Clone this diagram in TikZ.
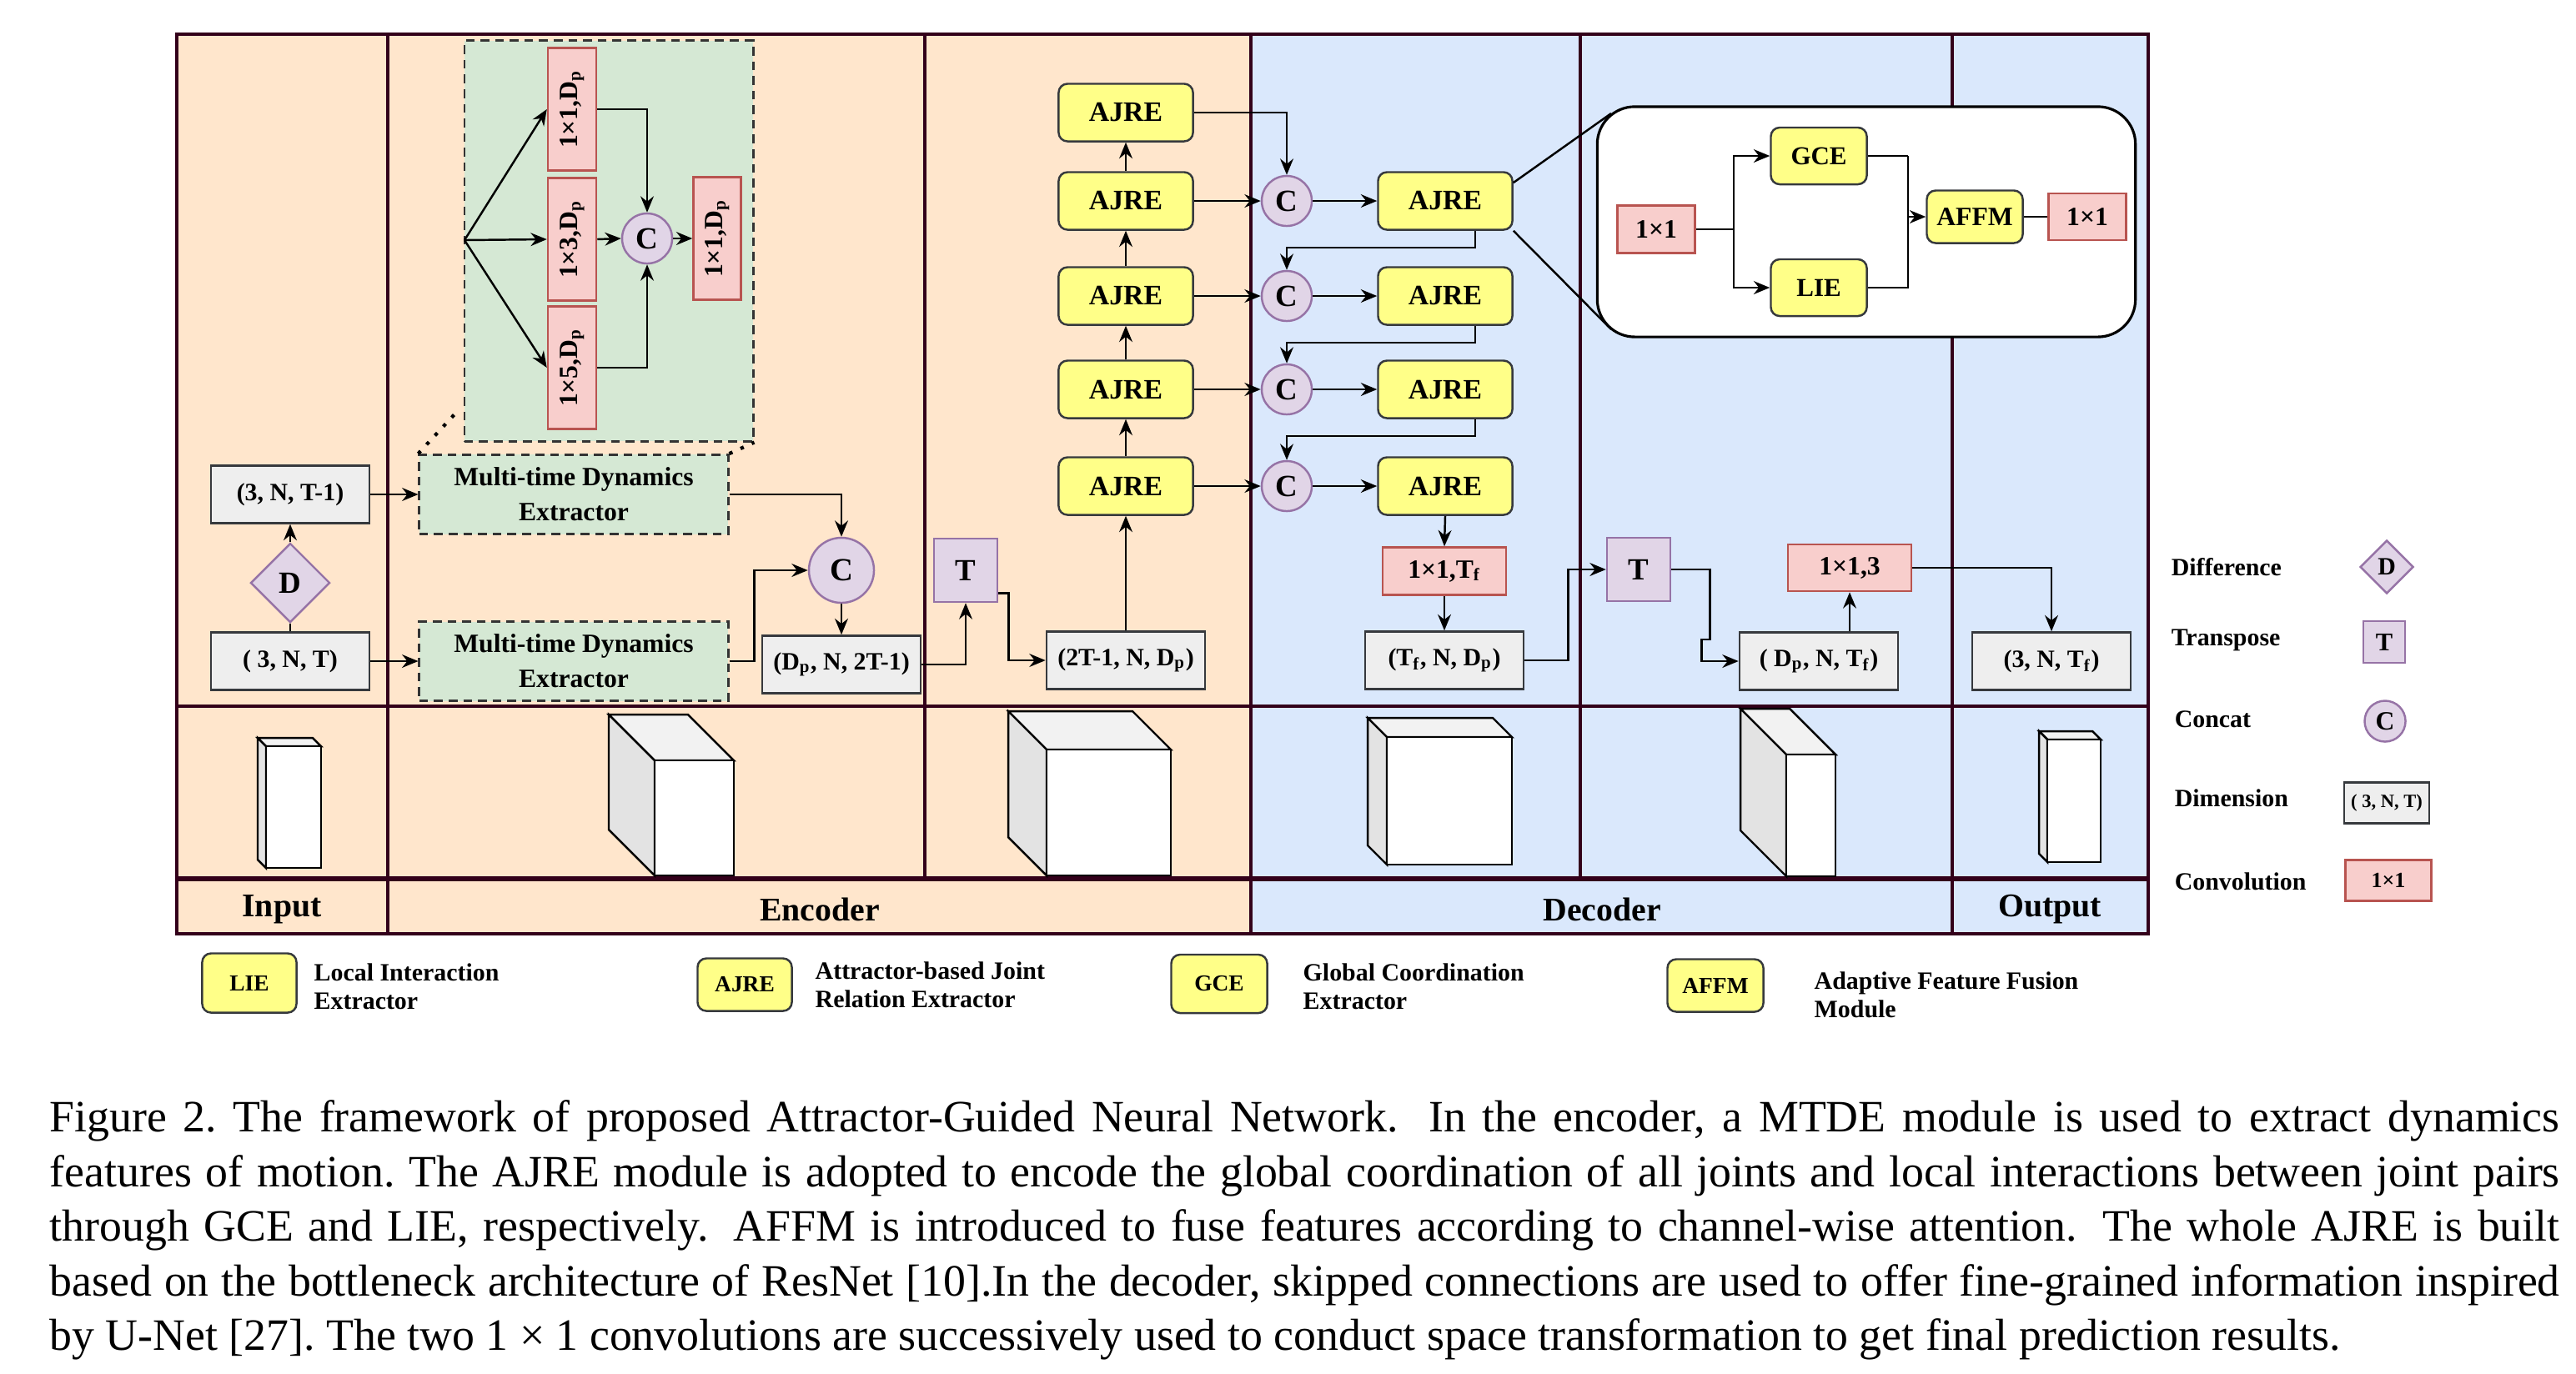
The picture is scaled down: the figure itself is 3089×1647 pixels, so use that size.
\documentclass[tikz,border=0pt]{standalone}
\usepackage{fontspec}
\setmainfont{Liberation Serif}
\usetikzlibrary{arrows.meta, shapes.geometric}
\definecolor{orangebg}{HTML}{FFE6CC}
\definecolor{bluebg}{HTML}{DAE8FC}
\definecolor{framecol}{HTML}{33001A}
\definecolor{dimfill}{HTML}{EEEEEE}
\definecolor{dimline}{HTML}{36393D}
\definecolor{convfill}{HTML}{F8CECC}
\definecolor{convline}{HTML}{B85450}
\definecolor{ajrefill}{HTML}{FFFF88}
\definecolor{ajreline}{HTML}{36393D}
\definecolor{opfill}{HTML}{E1D5E7}
\definecolor{opline}{HTML}{9673A6}
\definecolor{mdefill}{HTML}{D5E8D4}
\definecolor{mdeline}{HTML}{333333}
\definecolor{cubetop}{HTML}{F2F2F2}
\definecolor{cubeside}{HTML}{E3E3E3}

\begin{document}
\begin{tikzpicture}[x=0.01cm, y=-0.01cm,
  every node/.style={font=\bfseries\fontsize{9}{11}\selectfont},
  frame/.style={draw=framecol, line width=1.3pt},
  arr/.style={-{Stealth[length=5.5pt,width=4.5pt]}, line width=0.7pt},
  link/.style={line width=0.7pt},
  dimbox/.style={draw=dimline, fill=dimfill, line width=0.7pt, minimum width=1.9cm, minimum height=0.69cm, inner sep=1pt, font=\bfseries\fontsize{8.5}{10}\selectfont},
  convbox/.style={draw=convline, fill=convfill, line width=0.7pt, inner sep=1pt},
  ajre/.style={draw=ajreline, fill=ajrefill, line width=0.7pt, rounded corners=3pt, minimum width=1.61cm, minimum height=0.69cm, font=\bfseries\fontsize{9.6}{11}\selectfont},
  opnode/.style={draw=opline, fill=opfill, line width=0.7pt, inner sep=0pt, font=\bfseries\fontsize{10.5}{12}\selectfont},
  concat/.style={opnode, circle, minimum size=0.6cm},
  trans/.style={opnode, minimum size=0.76cm},
  diff/.style={opnode, diamond, minimum size=0.95cm},
  mde/.style={draw=mdeline, fill=mdefill, line width=0.8pt, dash pattern=on 3pt off 2pt, minimum width=3.7cm, minimum height=0.95cm, align=center, font=\bfseries\fontsize{9}{12}\selectfont},
  dots/.style={dash pattern=on 1.2pt off 3pt, line width=1.2pt},
  legtext/.style={anchor=west, align=left, inner sep=0pt, font=\bfseries\fontsize{8.5}{9.6}\selectfont},
  rowlabel/.style={font=\bfseries\fontsize{11.3}{13}\selectfont},
  cube/.style={draw=black, line width=0.7pt}]
\useasboundingbox (0,0) rectangle (3089,1647);

\fill[orangebg] (212,41) rectangle (1500,1120);
\fill[bluebg] (1500,41) rectangle (2576,1120);
\draw[frame] (212,41) rectangle (2576,1120);
\draw[frame] (212,847) -- (2576,847);
\draw[frame, line width=1.8pt] (212,1054) -- (2576,1054);
\foreach \xv/\yv in {465/1120, 1109/1054, 1500/1120, 1895/1054, 2341/1120}
  \draw[frame] (\xv,41) -- (\xv,\yv);

\foreach \xa/\ya/\xb/\yb/\dd in {319/895/385/1041/10, 785/912/880/1050/55, 1255/899/1404/1050/46, 1663/884/1813/1037/23, 2142/905/2201/1051/55, 2455/887/2519/1034/10} {
  \filldraw[cube, fill=cubetop] (\xa,\ya) -- ({\xa-\dd},{\ya-\dd}) -- ({\xb-\dd},{\ya-\dd}) -- (\xb,\ya) -- cycle;
  \filldraw[cube, fill=cubeside] (\xa,\ya) -- ({\xa-\dd},{\ya-\dd}) -- ({\xa-\dd},{\yb-\dd}) -- (\xa,\yb) -- cycle;
  \filldraw[cube, fill=white] (\xa,\ya) rectangle (\xb,\yb);
}

\node[rowlabel] (lblin) at (338,1091) {Input};
\node[rowlabel] (lblenc) at (983,1091) {Encoder};
\node[rowlabel] (lbldec) at (1921,1091) {Decoder};
\node[rowlabel] (lblout) at (2458,1091) {Output};

\node[dimbox] (dimA) at (348,593) {(3, N, T-1)};
\node[diff] (dif) at (348,699) {D};
\node[dimbox] (dimB) at (348,793) {( 3, N, T)};
\draw[link] (dimB.north) -- (dif.south);
\draw[arr] (dif.north) -- (dimA.south);

\node[mde, minimum width=3.46cm, minimum height=4.8cm] (mdezoom) at (730,289) {};
\node[convbox, rotate=90, minimum width=1.47cm, minimum height=0.58cm] (k1) at (686,131) {1×1,D\textsubscript{p}};
\node[convbox, rotate=90, minimum width=1.47cm, minimum height=0.58cm] (k3) at (686,287) {1×3,D\textsubscript{p}};
\node[convbox, rotate=90, minimum width=1.47cm, minimum height=0.58cm] (k5) at (686,441) {1×5,D\textsubscript{p}};
\node[concat] (kc) at (776,286) {C};
\node[convbox, rotate=90, minimum width=1.47cm, minimum height=0.57cm] (kout) at (860,286) {1×1,D\textsubscript{p}};
\coordinate (kin) at (557,288);
\draw[arr] (kin) -- (k1.north);
\draw[arr] (kin) -- (k3.north);
\draw[arr] (kin) -- (k5.north);
\draw[arr] (k1.south) -| (kc.north);
\draw[arr] (k3.south) -- (kc.west);
\draw[arr] (k5.south) -| (kc.south);
\draw[arr] (kc.east) -- (kout.north);

\node[mde] (mde1) at (688,593) {Multi-time Dynamics\\Extractor};
\node[mde] (mde2) at (688,793) {Multi-time Dynamics\\Extractor};
\coordinate (zl) at (545,497);
\draw[dots] (mde1.north west) -- (zl);
\draw[dots] (mde1.north east) -- (mdezoom.south east);
\draw[arr] (dimA.east) -- (mde1.west);
\draw[arr] (dimB.east) -- (mde2.west);

\node[concat, minimum size=0.78cm, font=\bfseries\fontsize{11}{12}\selectfont] (cc) at (1009,684) {C};
\node[dimbox] (dimC) at (1009,797) {(D\textsubscript{p}, N, 2T-1)};
\draw[arr] (mde1.east) -| (cc.north);
\draw[arr] (mde2.east) -- ++(30,0) |- (cc.west);
\draw[arr] (cc.south) -- (dimC.north);

\node[trans] (tr1) at (1158,684) {T};
\node[dimbox] (dimD) at (1350,792) {(2T-1, N, D\textsubscript{p})};
\draw[arr] (dimC.east) -| (tr1.south);
\draw[arr] (tr1.-35) -- ++(12,0) |- (dimD.west);
\foreach \i/\yv in {1/135, 2/241, 3/355, 4/467, 5/583}
  \node[ajre] (enc\i) at (1350,\yv) {AJRE};
\draw[arr] (dimD.north) -- (enc5.south);
\foreach \i/\j in {5/4, 4/3, 3/2, 2/1}
  \draw[arr] (enc\i.north) -- (enc\j.south);

\foreach \i/\yv in {1/241, 2/355, 3/467, 4/583} {
  \node[concat] (cat\i) at (1543,\yv) {C};
  \node[ajre] (dec\i) at (1733,\yv) {AJRE};
  \draw[arr] (cat\i.east) -- (dec\i.west);
}
\draw[arr] (enc1.east) -| (cat1.north);
\foreach \i/\j in {2/1, 3/2, 4/3, 5/4}
  \draw[arr] (enc\i.east) -- (cat\j.west);
\foreach \i/\j in {1/2, 2/3, 3/4}
  \draw[arr] (dec\i.-45) -- ++(0,20) -| (cat\j.north);

\node[convbox, minimum width=1.48cm, minimum height=0.57cm] (cv1) at (1732,685) {1×1,T\textsubscript{f}};
\node[dimbox] (dimE) at (1732,792) {(T\textsubscript{f}, N, D\textsubscript{p})};
\draw[arr] (dec4.south) -- (cv1.north);
\draw[arr] (cv1.south) -- (dimE.north);
\node[trans] (tr2) at (1965,683) {T};
\draw[arr] (dimE.east) -- ++(52,0) |- (tr2.west);
\node[dimbox] (dimF) at (2181,793) {( D\textsubscript{p}, N, T\textsubscript{f})};
\draw[arr] (tr2.east) -- ++(46,0) -- ++(0,84) -- ++(-10,0) |- (dimF.west);
\node[convbox, minimum width=1.48cm, minimum height=0.56cm] (cv2) at (2218,681) {1×1,3};
\draw[arr] (cv2.south |- dimF.north) -- (cv2.south);
\node[dimbox] (dimG) at (2460,793) {(3, N, T\textsubscript{f})};
\draw[arr] (cv2.east) -| (dimG.north);

\coordinate (zt) at (1932,136);
\coordinate (zb) at (1932,395);
\draw[link] (dec1.15) -- (zt);
\draw[link] (dec1.south east) -- (zb);
\node[draw=black, fill=white, line width=0.9pt, rounded corners=0.45cm, minimum width=6.45cm, minimum height=2.76cm] (ajrezoom) at (2238,266) {};
\node[convbox, minimum width=0.93cm, minimum height=0.57cm] (za) at (1986,275) {1×1};
\node[ajre, minimum width=1.15cm, minimum height=0.68cm, font=\bfseries\fontsize{8.8}{10}\selectfont] (gce) at (2181,187) {GCE};
\node[ajre, minimum width=1.15cm, minimum height=0.68cm, font=\bfseries\fontsize{8.8}{10}\selectfont] (lie) at (2181,345) {LIE};
\node[ajre, minimum width=1.15cm, minimum height=0.63cm, font=\bfseries\fontsize{9}{10}\selectfont] (affm) at (2368,260) {AFFM};
\node[convbox, minimum width=0.93cm, minimum height=0.56cm] (zc) at (2503,260) {1×1};
\draw[link] (za.east) -- ++(45,0) coordinate (zs);
\draw[arr] (zs) |- (gce.west);
\draw[arr] (zs) |- (lie.west);
\draw[link] (gce.east) -- ++(48,0) coordinate (zm);
\draw[arr] (zm) |- (affm.west);
\draw[link] (lie.east) -| (zm |- affm.west);
\draw[link] (affm.east) -- (zc.west);

\node[legtext] (lgdt) at (2603,680) {Difference};
\node[legtext] (lgtt) at (2603,768) {Transpose};
\node[legtext] (lgct) at (2607,863) {Concat};
\node[legtext] (lgdimt) at (2607,957) {Dimension};
\node[legtext] (lgconvt) at (2607,1057) {Convolution};
\node[diff, minimum size=0.64cm, font=\bfseries\fontsize{8.5}{10}\selectfont] (lgd) at (2862,680) {D};
\node[trans, minimum size=0.5cm, font=\bfseries\fontsize{8.7}{10}\selectfont] (lgt) at (2859,770) {T};
\node[concat, minimum size=0.49cm, font=\bfseries\fontsize{9}{10}\selectfont] (lgc) at (2860,865) {C};
\node[dimbox, minimum width=1.02cm, minimum height=0.49cm, font=\bfseries\fontsize{6.4}{8}\selectfont] (lgdim) at (2862,963) {( 3, N, T)};
\node[convbox, minimum width=1.03cm, minimum height=0.49cm, font=\bfseries\fontsize{7.4}{9}\selectfont] (lgconv) at (2864,1056) {1×1};

\node[ajre, minimum width=1.13cm, minimum height=0.71cm, font=\bfseries\fontsize{7.8}{9}\selectfont] (lglie) at (299,1179) {LIE};
\node[legtext] (lglietxt) at (376,1183) {Local Interaction\\Extractor};
\node[ajre, minimum width=1.13cm, minimum height=0.63cm, font=\bfseries\fontsize{7.8}{9}\selectfont] (lgajre) at (893,1181) {AJRE};
\node[legtext] (lgajretxt) at (977,1181) {Attractor-based Joint\\Relation Extractor};
\node[ajre, minimum width=1.15cm, minimum height=0.70cm, font=\bfseries\fontsize{7.8}{9}\selectfont] (lggce) at (1462,1180) {GCE};
\node[legtext] (lggcetxt) at (1562,1183) {Global Coordination\\Extractor};
\node[ajre, minimum width=1.15cm, minimum height=0.63cm, font=\bfseries\fontsize{7.8}{9}\selectfont] (lgaffm) at (2057,1182) {AFFM};
\node[legtext] (lgaffmtxt) at (2175,1193) {Adaptive Feature Fusion\\Module};

\node[anchor=north west, inner sep=0pt, text width=30.08cm, align=justify, font=\mdseries\fontsize{15.3}{18.65}\selectfont] (caption) at (59,1319) {Figure 2.\ The framework of proposed Attractor-Guided Neural Network.  In the encoder, a MTDE module is used to extract dynamics\linebreak features of motion.\ The AJRE module is adopted to encode the global coordination of all joints and local interactions between joint pairs\linebreak through GCE and LIE, respectively.  AFFM is introduced to fuse features according to channel-wise attention.  The whole AJRE is built\linebreak based on the bottleneck architecture of ResNet [10].In the decoder, skipped connections are used to offer fine-grained information inspired\linebreak by U-Net [27].\ The two 1 × 1 convolutions are successively used to conduct space transformation to get final prediction results.};
\end{tikzpicture}
\end{document}
